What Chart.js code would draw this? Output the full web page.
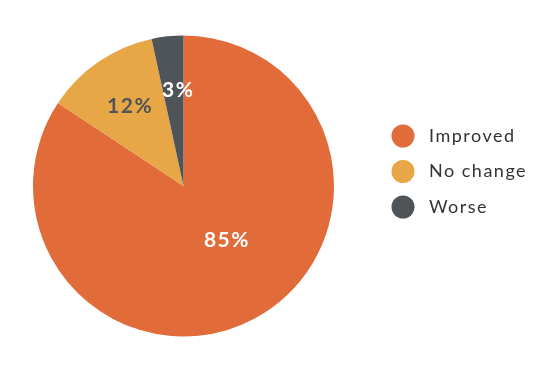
<!DOCTYPE html>
<html>
<head>
<meta charset="utf-8">
<script src="https://cdn.jsdelivr.net/npm/chart.js@4/dist/chart.umd.min.js"></script>
<style>
  html, body { margin: 0; padding: 0; background: #fff; }
  #wrap { width: 560px; height: 373px; }
</style>
</head>
<body>
<div id="wrap"><canvas id="myChart" width="560" height="373"></canvas></div>
<script>
// Datos
const categorias = ['Improved', 'No change', 'Worse'];
const valores = [84.3, 12.3, 3.4]; // tamaño de las porciones según la imagen
const etiquetas = ['85%', '12%', '3%'];
const colores = ['#E26B3A', '#E8A746', '#4E5457'];
const coloresTexto = ['#FFFFFF', '#4E5457', '#FFFFFF'];

// Etiquetas de porcentaje dentro de cada porción
const etiquetasPie = {
    id: 'etiquetasPie',
    afterDatasetsDraw(chart) {
        const ctx = chart.ctx;
        const meta = chart.getDatasetMeta(0);
        ctx.save();
        ctx.font = 'bold 21px Lato';
        ctx.letterSpacing = '1.5px';
        ctx.textAlign = 'center';
        ctx.textBaseline = 'middle';
        meta.data.forEach((arc, i) => {
            const p = arc.getProps(['x', 'y', 'startAngle', 'endAngle', 'outerRadius']);
            let ang = (p.startAngle + p.endAngle) / 2;
            let r = p.outerRadius * 0.64;
            let dx = 1;
            if (i === 0) { // la porción grande lleva la etiqueta más arriba
                ang = Math.PI / 2 - 0.66;
                r = p.outerRadius * 0.46;
            }
            if (i === 2) dx = 5; // la porción estrecha: texto un poco a la derecha
            ctx.fillStyle = coloresTexto[i];
            ctx.fillText(etiquetas[i], p.x + Math.cos(ang) * r + dx, p.y + Math.sin(ang) * r);
        });
        ctx.restore();
    }
};

// Leyenda a la derecha con círculos grandes
const leyenda = {
    id: 'leyenda',
    afterDraw(chart) {
        const ctx = chart.ctx;
        ctx.save();
        ctx.font = '18px Lato';
        ctx.letterSpacing = '1.5px';
        ctx.textBaseline = 'middle';
        categorias.forEach((c, i) => {
            const y = 136 + i * 35.5;
            ctx.fillStyle = colores[i];
            ctx.beginPath();
            ctx.arc(403, y, 11.5, 0, Math.PI * 2);
            ctx.fill();
            ctx.fillStyle = '#333';
            ctx.fillText(c, 429, y);
        });
        ctx.restore();
    }
};

const ctx = document.getElementById('myChart').getContext('2d');

const myChart = new Chart(ctx, {
    type: 'pie',
    data: {
        labels: categorias,
        datasets: [{
            data: valores,
            backgroundColor: colores,
            borderWidth: 0,
        }],
    },
    options: {
        responsive: false,
        animation: false,
        layout: { padding: { left: 33, right: 226, top: 35, bottom: 36 } },
        plugins: {
            legend: { display: false },
            tooltip: { enabled: false },
        },
    },
    plugins: [etiquetasPie, leyenda],
});
</script>
</body>
</html>
